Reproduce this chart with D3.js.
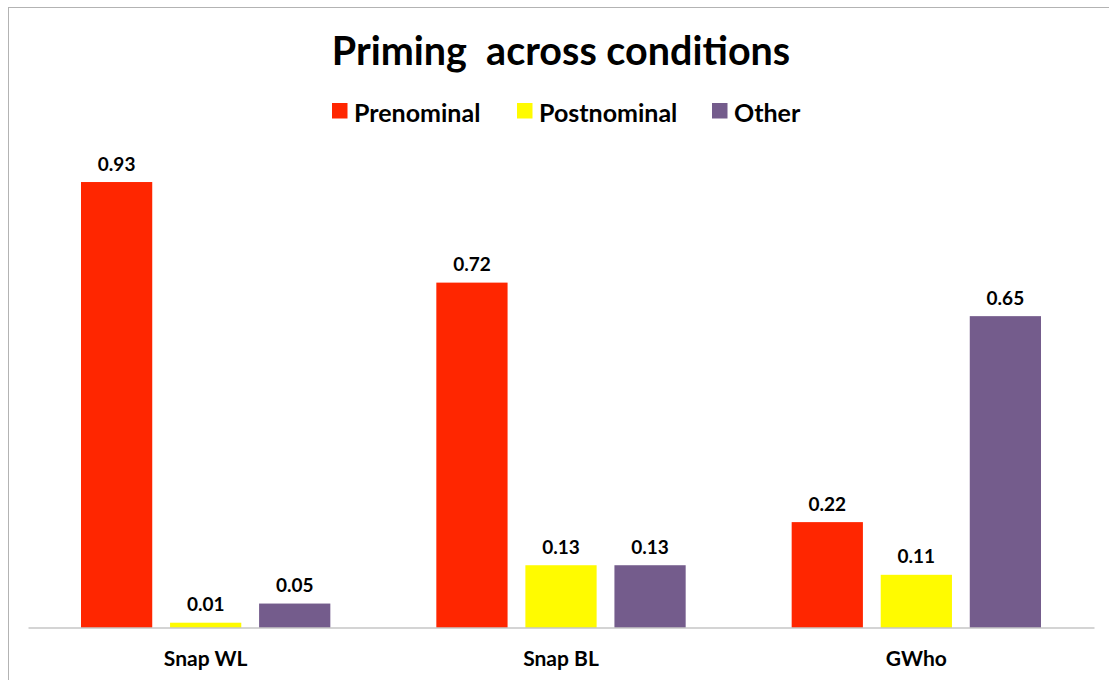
<!DOCTYPE html>
<html>
<head>
<meta charset="utf-8">
<script src="https://cdn.jsdelivr.net/npm/d3@7"></script>
<style>
  html, body { margin: 0; padding: 0; background: #fff; }
  svg { display: block; font-family: Lato, "Open Sans", sans-serif; }
</style>
</head>
<body>
<svg id="chart" width="1109" height="680"></svg>
<script>
// Conditions along the x axis
const categories = ["Snap WL", "Snap BL", "GWho"];
// Response types
const series = ["Prenominal", "Postnominal", "Other"];
// Proportion of each response type per condition
const prenominal = [0.93, 0.72, 0.22];
const postnominal = [0.01, 0.13, 0.11];
const other = [0.05, 0.13, 0.65];
const colors = ["#ff2600", "#fffb00", "#745c8c"];

const values = [prenominal, postnominal, other];
const data = categories.map((c, i) => ({
  category: c,
  bars: series.map((s, j) => ({ series: s, value: values[j][i] }))
}));

const svg = d3.select("#chart");
const W = 1109, H = 680;

// Chart frame
svg.append("rect")
  .attr("x", 8.5).attr("y", 7.5)
  .attr("width", W + 20).attr("height", H + 20)
  .attr("fill", "#fff").attr("stroke", "#b3b3b3").attr("stroke-width", 1);

const plot = { left: 28, right: 1094, bottom: 627.5 };

const x0 = d3.scaleBand()
  .domain(categories)
  .range([plot.left, plot.right])
  .paddingInner(0).paddingOuter(0);

const x1 = d3.scaleBand()
  .domain(series)
  .range([53, x0.bandwidth() - 53])
  .paddingInner(0.2).paddingOuter(0);

const y = d3.scaleLinear()
  .domain([0, 1])
  .range([plot.bottom, plot.bottom - 479]);

const color = d3.scaleOrdinal().domain(series).range(colors);

// Title
svg.append("text")
  .attr("x", 561).attr("y", 65)
  .attr("text-anchor", "middle")
  .attr("font-size", 39.5).attr("font-weight", 700)
  .attr("fill", "#000")
  .attr("xml:space", "preserve")
  .text("Priming  across conditions");

// Legend
const legendItems = [
  { s: "Prenominal", x: 332 },
  { s: "Postnominal", x: 517 },
  { s: "Other", x: 712 }
];
const legend = svg.append("g");
legendItems.forEach(it => {
  legend.append("rect")
    .attr("x", it.x).attr("y", 103)
    .attr("width", 15.5).attr("height", 15.5)
    .attr("fill", color(it.s));
  legend.append("text")
    .attr("x", it.x + 22).attr("y", 121.5)
    .attr("font-size", 25).attr("font-weight", 700)
    .attr("fill", "#000")
    .text(it.s);
});

// Bars
const groups = svg.append("g").selectAll("g")
  .data(data).join("g")
  .attr("transform", d => `translate(${x0(d.category)},0)`);

groups.selectAll("rect")
  .data(d => d.bars).join("rect")
  .attr("x", d => x1(d.series))
  .attr("y", d => y(d.value))
  .attr("width", x1.bandwidth())
  .attr("height", d => y(0) - y(d.value))
  .attr("fill", d => color(d.series));

groups.selectAll("text")
  .data(d => d.bars).join("text")
  .attr("x", d => x1(d.series) + x1.bandwidth() / 2)
  .attr("y", d => y(d.value) - 11.5)
  .attr("text-anchor", "middle")
  .attr("font-size", 19).attr("font-weight", 700)
  .attr("fill", "#000")
  .text(d => d3.format(".2f")(d.value));

// Category axis
const xAxis = svg.append("g")
  .attr("transform", `translate(0,${plot.bottom})`)
  .call(d3.axisBottom(x0).tickSize(0).tickPadding(23.5));
xAxis.select(".domain").attr("stroke", "#aaaaaa").attr("stroke-width", 1.2);
xAxis.selectAll("text")
  .attr("font-family", "Lato, 'Open Sans', sans-serif")
  .attr("font-size", 21).attr("font-weight", 700)
  .attr("fill", "#000");
</script>
</body>
</html>
